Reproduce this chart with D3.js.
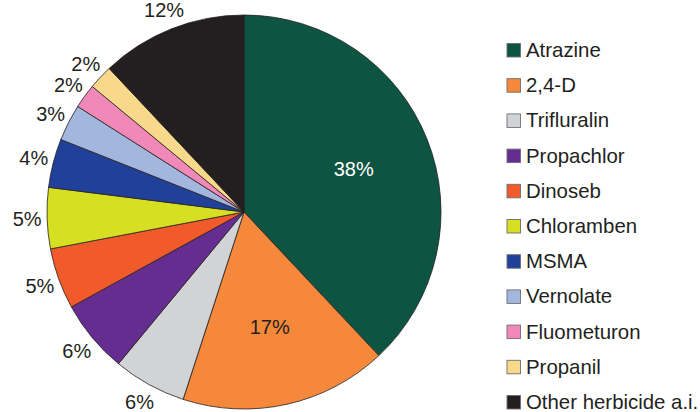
<!DOCTYPE html>
<html>
<head>
<meta charset="utf-8">
<script src="https://cdn.jsdelivr.net/npm/d3@7"></script>
<style>
  body { margin: 0; background: #fff; }
  text { font-family: "Liberation Sans", Arial, Helvetica, sans-serif; }
</style>
</head>
<body>
<svg></svg>
<script>
// herbicide share, percent of total a.i.
var names = ["Atrazine", "2,4-D", "Trifluralin", "Propachlor", "Dinoseb",
  "Chloramben", "MSMA", "Vernolate", "Fluometuron", "Propanil", "Other herbicide a.i."];
var shares = [38, 17, 6, 6, 5, 5, 4, 3, 2, 2, 12];
var colors = ["#0e5443", "#f5883b", "#d1d3d4", "#662d91", "#f15a2a",
  "#d7df23", "#21409a", "#a3b7de", "#f089b7", "#f8d98b", "#231f20"];

var svgWidth = 700;
var svgHeight = 412;

var cx = 244, cy = 212;
var radius = 197;

var svg = d3.select("svg")
    .attr("width", svgWidth)
    .attr("height", svgHeight);

var data = names.map(function(n, i) {
  return { name: n, value: shares[i], color: colors[i] };
});

var pie = d3.pie()
    .sort(null)
    .value(d => d.value);

var arcs = pie(data);

var arc = d3.arc().innerRadius(0).outerRadius(radius);
var outerLabel = d3.arc().innerRadius(217).outerRadius(217);
var innerLabel = d3.arc().innerRadius(118).outerRadius(118);

var pieGroup = svg.append("g")
    .attr("transform", `translate(${cx},${cy})`);

pieGroup.selectAll("path")
    .data(arcs)
    .enter()
    .append("path")
    .attr("d", arc)
    .attr("fill", d => d.data.color)
    .attr("stroke", "#231f20")
    .attr("stroke-width", 0.8);

// the two big slices get their label inside, the rest outside
pieGroup.selectAll("text.pct")
    .data(arcs)
    .enter()
    .append("text")
    .attr("class", "pct")
    .attr("transform", function(d, i) {
      var p = i < 2 ? innerLabel.centroid(d) : outerLabel.centroid(d);
      return `translate(${p[0]},${p[1]})`;
    })
    .attr("text-anchor", "middle")
    .attr("dy", "0.36em")
    .attr("font-size", 20)
    .attr("fill", (d, i) => i === 0 ? "#ffffff" : "#231f20")
    .text(d => d.data.value + "%");

// Legend
var legend = svg.append("g")
    .attr("transform", "translate(507,43.5)");

var row = legend.selectAll("g")
    .data(data)
    .enter()
    .append("g")
    .attr("transform", (d, i) => `translate(0,${i * 35.2})`);

row.append("rect")
    .attr("width", 13.5)
    .attr("height", 13.5)
    .attr("fill", d => d.color)
    .attr("stroke", "#6d6e71")
    .attr("stroke-width", 0.9);

row.append("text")
    .attr("x", 19)
    .attr("y", 13.5)
    .attr("font-size", 20.4)
    .attr("fill", "#231f20")
    .text(d => d.name);
</script>
</body>
</html>
